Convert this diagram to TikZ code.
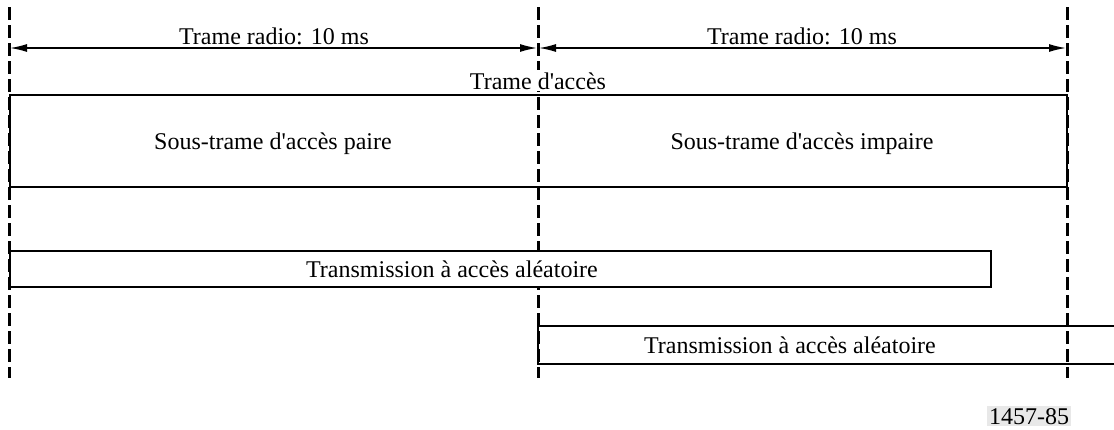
\documentclass[tikz,border=0pt]{standalone}
\usepackage{fontspec}
\newfontfamily\figserif{Liberation Serif}
\usetikzlibrary{arrows.meta}
\begin{document}
\begin{tikzpicture}[x=1pt,y=-1pt,
  guide/.style={line width=3pt,dash pattern=on 13pt off 5pt},
  dim/.style={line width=1.5pt,{Latex[length=17pt,width=8pt]}-{Latex[length=17pt,width=8pt]}},
  frame/.style={line width=1.5pt},
  lbl/.style={font=\figserif\fontsize{24}{28}\selectfont,inner sep=0pt,anchor=base}]
\useasboundingbox (0,0) rectangle (1114,429);
% guide coordinates
\coordinate (l0) at (9.5,7); \coordinate (l1) at (9.5,378);
\coordinate (m0) at (538,7); \coordinate (m1) at (538,378);
\coordinate (r0) at (1067,7); \coordinate (r1) at (1067,378);
\draw[guide] (l0) -- (l1);
\draw[guide] (m0) -- (m1);
\draw[guide] (r0) -- (r1);
% dimension arrows
\coordinate (a0) at (10,48); \coordinate (a1) at (537,48);
\coordinate (a2) at (539,48); \coordinate (a3) at (1066,48);
\draw[dim] (a0) -- (a1);
\draw[dim] (a2) -- (a3);
\node[lbl] (t1) at (274,44) {Trame radio: 10 ms};
\node[lbl] (t2) at (802,44) {Trame radio: 10 ms};
% access frame
\node[lbl,fill=white,inner xsep=3pt,inner ysep=2pt] (ta) at (538,89) {Trame d'accès};
\draw[frame] (10,95) rectangle (1067,187);
\node[lbl] (sp) at (273,149) {Sous-trame d'accès paire};
\node[lbl] (si) at (802,149) {Sous-trame d'accès impaire};
% random access transmissions
\draw[frame,fill=white] (10,251) rectangle (991,287);
\node[lbl] (ra1) at (452,277) {Transmission à accès aléatoire};
\draw[frame] (1114,326) -- (538,326) -- (538,364) -- (1114,364);
\node[lbl] (ra2) at (790,353) {Transmission à accès aléatoire};
% figure number
\node[lbl,fill=gray!18,inner sep=2pt] (fig) at (1029,424) {1457-85};
\end{tikzpicture}
\end{document}
